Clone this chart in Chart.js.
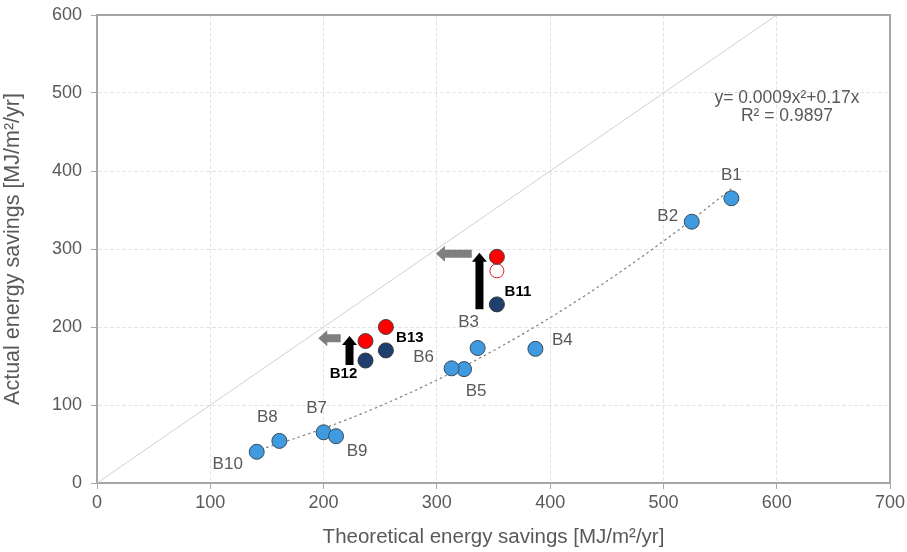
<!DOCTYPE html>
<html>
<head>
<meta charset="utf-8">
<script src="https://cdn.jsdelivr.net/npm/chart.js@4/dist/chart.umd.min.js"></script>
<style>
html,body{margin:0;padding:0;background:#fff;}
#wrap{width:907px;height:552px;position:relative;}
</style>
</head>
<body>
<div id="wrap"><canvas id="c" width="907" height="552"></canvas></div>
<script>
// ---- Data ----
const buildingLabels = ['B1','B2','B3','B4','B5','B6','B7','B8','B9','B10'];
const theoretical   = [560, 525, 336, 387, 324, 313, 200, 161, 211, 141];
const actual        = [365, 335, 173, 172, 146, 147, 65, 54, 60, 40];

const retrofitLabels      = ['B11','B12','B13'];
const retrofitTheoretical = [353, 237, 255];
const retrofitBefore      = [229, 157, 170];   // dark blue
const retrofitAfter       = [290, 182, 200];   // red filled
const hollowTheoretical   = [353];
const hollowActual        = [272];             // red open circle (B11)

const fitCoefA = 0.0009, fitCoefB = 0.17;      // y = a x^2 + b x
const fitRange = [140, 560];
const fitText  = ['y= 0.0009x\u00b2+0.17x', 'R\u00b2 = 0.9897'];

const xTicks = [0,100,200,300,400,500,600,700];
const yTicks = [0,100,200,300,400,500,600];

// arrows: [x0,y0,x1,y1] in data units (tail -> head)
const arrowsBlack = [[337.6,222.7,337.6,295.3],[222.9,151.3,222.9,188.5]];
const arrowsGray  = [[330.8,293.8,299.2,293.8],[215.1,185.5,195.3,185.5]];

// ---- derived ----
const fitPts = [];
for (let x = fitRange[0]; x <= fitRange[1]; x += 5) fitPts.push({x:x, y:fitCoefA*x*x + fitCoefB*x});
const mainPts = theoretical.map((v,i)=>({x:v,y:actual[i]}));
const beforePts = retrofitTheoretical.map((v,i)=>({x:v,y:retrofitBefore[i]}));
const afterPts = retrofitTheoretical.map((v,i)=>({x:v,y:retrofitAfter[i]}));
const hollowPts = hollowTheoretical.map((v,i)=>({x:v,y:hollowActual[i]}));

// label offsets (px)
const mainLabelOffsets = [[0,-23],[-24,-5],[-9,-26],[27,-9],[12,22],[-28,-11],[-7,-24],[-12,-24],[21,15],[-29,13]];
const retroLabelOffsets = [[21,-13],[-22,13],[24,11]];

const FONT = "'Liberation Sans', Arial, sans-serif";
const GRAY_TXT = '#595959';

const extras = {
  id:'extras',
  afterDatasetsDraw(chart){
    const ctx = chart.ctx, xs = chart.scales.x, ys = chart.scales.y, ca = chart.chartArea;
    ctx.save();
    // box border
    ctx.strokeStyle = '#a6a6a6'; ctx.lineWidth = 2;
    ctx.beginPath();
    ctx.moveTo(ca.left, ca.top); ctx.lineTo(ca.right, ca.top); ctx.lineTo(ca.right, ca.bottom);
    ctx.stroke();
    // arrows
    function arrow(a, color, shaft, headW, headL){
      const x0=xs.getPixelForValue(a[0]), y0=ys.getPixelForValue(a[1]);
      const x1=xs.getPixelForValue(a[2]), y1=ys.getPixelForValue(a[3]);
      const ang=Math.atan2(y1-y0,x1-x0), len=Math.hypot(x1-x0,y1-y0);
      ctx.save(); ctx.translate(x0,y0); ctx.rotate(ang);
      ctx.fillStyle=color; ctx.beginPath();
      ctx.moveTo(0,-shaft/2); ctx.lineTo(len-headL,-shaft/2); ctx.lineTo(len-headL,-headW/2);
      ctx.lineTo(len,0); ctx.lineTo(len-headL,headW/2); ctx.lineTo(len-headL,shaft/2); ctx.lineTo(0,shaft/2);
      ctx.closePath(); ctx.fill(); ctx.restore();
    }
    arrowsBlack.forEach(a=>arrow(a,'#000000',8,15,9));
    arrowsGray.forEach(a=>arrow(a,'#7f7f7f',8,16,9));
    // labels
    ctx.textAlign='center'; ctx.textBaseline='middle';
    ctx.font = '17px ' + FONT; ctx.fillStyle = GRAY_TXT;
    buildingLabels.forEach((l,i)=>{
      const px=xs.getPixelForValue(theoretical[i]), py=ys.getPixelForValue(actual[i]);
      ctx.fillText(l, px+mainLabelOffsets[i][0], py+mainLabelOffsets[i][1]);
    });
    ctx.font = 'bold 15px ' + FONT; ctx.fillStyle = '#000';
    retrofitLabels.forEach((l,i)=>{
      const px=xs.getPixelForValue(retrofitTheoretical[i]);
      const py=ys.getPixelForValue(i===2?retrofitAfter[i]:retrofitBefore[i]);
      ctx.fillText(l, px+retroLabelOffsets[i][0], py+retroLabelOffsets[i][1]);
    });
    // equation
    ctx.font = '17.5px ' + FONT; ctx.fillStyle = GRAY_TXT;
    const ex = xs.getPixelForValue(609), ey = ys.getPixelForValue(494);
    ctx.fillText(fitText[0], ex, ey);
    ctx.fillText(fitText[1], ex, ey+18);
    ctx.restore();
  }
};

new Chart(document.getElementById('c'), {
  type:'scatter',
  data:{
    datasets:[
      {label:'1:1', data:[{x:0,y:0},{x:600,y:600}], showLine:true, borderColor:'#d0d0d0', borderWidth:1, pointRadius:0, order:5},
      {label:'fit', data:fitPts, showLine:true, borderColor:'#808080', borderWidth:1.2, borderDash:[2.5,3], pointRadius:0, order:4},
      {label:'B1-B10', data:mainPts, backgroundColor:'#3f9ae0', borderColor:'#3a4a5a', borderWidth:1, pointRadius:7.5, order:1},
      {label:'before', data:beforePts, backgroundColor:'#1f3f6f', borderColor:'#333', borderWidth:1, pointRadius:7.5, order:1},
      {label:'after', data:afterPts, backgroundColor:'#ff0000', borderColor:'#444', borderWidth:1, pointRadius:7.5, order:1},
      {label:'hollow', data:hollowPts, backgroundColor:'#ffffff', borderColor:'#e02020', borderWidth:1, pointRadius:7, order:1}
    ]
  },
  options:{
    responsive:false, animation:false,
    layout:{padding:{top:15,right:17,left:0,bottom:0}},
    plugins:{legend:{display:false}, tooltip:{enabled:false}},
    scales:{
      x:{type:'linear', min:0, max:700,
        afterBuildTicks(s){ s.ticks = xTicks.map(v=>({value:v})); },
        afterFit(s){ s.height = 69; s.paddingLeft = 0; s.paddingRight = 0; },
        grid:{color:'#e4e4e4', tickColor:'#a6a6a6', tickLength:6, drawOnChartArea:true},
        border:{color:'#a6a6a6', width:2, dash:[4,2]},
        ticks:{color:GRAY_TXT, font:{family:FONT, size:18}, padding:3, maxRotation:0},
        title:{display:true, text:'Theoretical energy savings [MJ/m\u00b2/yr]', color:GRAY_TXT, font:{family:FONT, size:20.5}, padding:{top:6,bottom:2}}
      },
      y:{type:'linear', min:0, max:600,
        afterBuildTicks(s){ s.ticks = yTicks.map(v=>({value:v})); },
        afterFit(s){ s.width = 97; s.paddingTop = 0; s.paddingBottom = 0; },
        grid:{color:'#e4e4e4', tickColor:'#a6a6a6', tickLength:6},
        border:{color:'#a6a6a6', width:2, dash:[4,2]},
        ticks:{color:GRAY_TXT, font:{family:FONT, size:18}, padding:9},
        title:{display:true, text:'Actual energy savings [MJ/m\u00b2/yr]', color:GRAY_TXT, font:{family:FONT, size:21.5}, padding:{top:0,bottom:4}}
      }
    }
  },
  plugins:[extras]
});
</script>
</body>
</html>
